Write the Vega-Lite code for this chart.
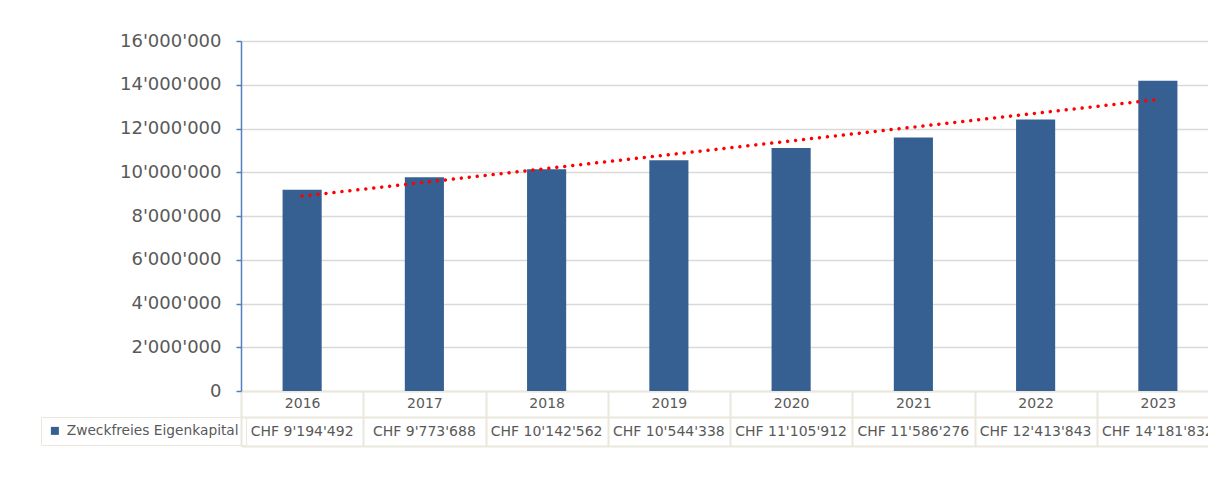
{
  "$schema": "https://vega.github.io/schema/vega-lite/v6.json",
  "width": 978,
  "height": 350,
  "autosize": {"type": "none"},
  "padding": {"left": 241, "top": 41, "right": -11, "bottom": 97},
  "background": "white",
  "config": {
    "locale": {"number": {"decimal": ".", "thousands": "'", "grouping": [3], "currency": ["CHF ", ""]}},
    "view": {"stroke": null},
    "font": "DejaVu Sans"
  },
  "data": {"values": [
    {"year": 2016, "value": 9194492},
    {"year": 2017, "value": 9773688},
    {"year": 2018, "value": 10142562},
    {"year": 2019, "value": 10544338},
    {"year": 2020, "value": 11105912},
    {"year": 2021, "value": 11586276},
    {"year": 2022, "value": 12413843},
    {"year": 2023, "value": 14181832}
  ]},
  "layer": [
    {
      "layer": [
        {
          "mark": {"type": "bar", "width": {"band": 0.32}},
          "encoding": {
            "x": {"field": "year", "type": "ordinal", "scale": {"paddingInner": 0, "paddingOuter": 0},
              "axis": {"orient": "bottom", "title": null, "domainColor": "#EAE7DC", "domainWidth": 2, "ticks": true, "tickBand": "extent", "tickSize": 55, "tickColor": "#EAE7DC", "tickWidth": 2, "labelFontSize": 14, "labelColor": "#595959", "labelPadding": -50, "labelAngle": 0, "grid": false, "labelOverlap": false}},
            "y": {"field": "value", "type": "quantitative", "scale": {"domain": [0, 16000000], "nice": false},
              "axis": {"title": null, "tickCount": 8, "format": ",d", "domainColor": "#4F81BD", "domainWidth": 1.5, "tickColor": "#4F81BD", "tickSize": 5, "tickWidth": 1.5, "labelFontSize": 18, "labelColor": "#595959", "labelPadding": 15, "grid": true, "gridColor": "#D9D9D9", "gridWidth": 1.5}},
            "color": {"datum": "Zweckfreies Eigenkapital", "scale": {"range": ["#366092"]},
              "legend": {"orient": "none", "legendX": -200, "legendY": 376, "title": null, "symbolType": "square", "symbolSize": 64, "symbolStrokeWidth": 0, "labelFontSize": 13.75, "labelColor": "#595959", "labelOffset": 5, "padding": 7, "strokeColor": "#EAE7DC", "labelLimit": 300}}
          }
        },
        {
          "transform": [{"regression": "value", "on": "year"}],
          "mark": {"type": "line", "color": "#FF0000", "strokeWidth": 3.5, "strokeDash": [0.01, 8], "strokeCap": "round"},
          "encoding": {
            "x": {"field": "year", "type": "ordinal"},
            "y": {"field": "value", "type": "quantitative"}
          }
        }
      ]
    },
    {
      "mark": {"type": "bar", "opacity": 0},
      "encoding": {
        "x": {"field": "value", "type": "ordinal", "scale": {"paddingInner": 0, "paddingOuter": 0},
          "axis": {"orient": "bottom", "offset": 26, "title": null, "ticks": false, "domainColor": "#EAE7DC", "domainWidth": 2, "labelFontSize": 14, "labelColor": "#595959", "labelPadding": 7, "format": "$,", "formatType": "number", "labelAngle": 0, "grid": false, "labelOverlap": false}}
      }
    },
    {
      "mark": {"type": "bar", "opacity": 0},
      "encoding": {
        "x": {"field": "year", "type": "ordinal", "scale": {"paddingInner": 0, "paddingOuter": 0},
          "axis": {"orient": "bottom", "offset": 55, "title": null, "ticks": false, "labels": false, "domainColor": "#EAE7DC", "domainWidth": 2, "grid": false}}
      }
    }
  ],
  "resolve": {"scale": {"x": "independent"}}
}
